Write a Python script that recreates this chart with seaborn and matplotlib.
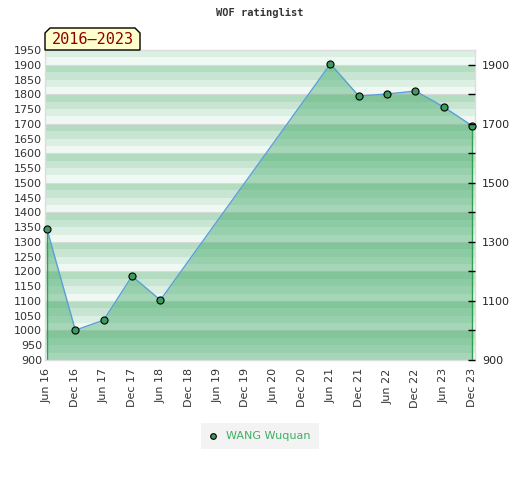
import seaborn as sns
import matplotlib.pyplot as plt
import pandas as pd
from matplotlib.patches import Polygon

periods = ['Jun 16', 'Dec 16', 'Jun 17', 'Dec 17', 'Jun 18', 'Dec 18', 'Jun 19', 'Dec 19',
           'Jun 20', 'Dec 20', 'Jun 21', 'Dec 21', 'Jun 22', 'Dec 22', 'Jun 23', 'Dec 23']
rated = ['Jun 16', 'Dec 16', 'Jun 17', 'Dec 17', 'Jun 18',
         'Jun 21', 'Dec 21', 'Jun 22', 'Dec 22', 'Jun 23', 'Dec 23']
ratings = [1343, 1001, 1035, 1184, 1103, 1903, 1794, 1801, 1811, 1757, 1693]
player = 'WANG Wuquan'
left_ticks = list(range(900, 1951, 50))
right_ticks = list(range(900, 1901, 100))
right_labels = [str(v) if (v - 900) % 200 == 0 else '' for v in right_ticks]

df = pd.DataFrame({'x': [periods.index(p) for p in rated], 'rating': ratings})

sns.set_style('white')
fig = plt.figure(figsize=(5.2, 4.8), dpi=100)
ax = fig.add_axes([45 / 520, 120 / 480, 430 / 520, 310 / 480])

# striped background, period of 100
shades = ['#f0f8f3', '#dcefe3', '#c8e5d3', '#b3dcc0']
for lo in range(900, 1950, 25):
    ax.axhspan(lo, lo + 25, color=shades[(lo // 25) % 4], lw=0, zorder=0)
for v in range(900, 1951, 100):
    ax.axhline(v, color='#dadada', lw=0.8, zorder=0.5)

ax.fill_between(df['x'], df['rating'], 900, color='#3ca765', alpha=0.42, lw=0, zorder=1)
ax.vlines([df['x'].iloc[0], df['x'].iloc[-1]], 900,
          [df['rating'].iloc[0], df['rating'].iloc[-1]], color='#2fa24f', lw=1, zorder=2)
sns.lineplot(data=df, x='x', y='rating', ax=ax, color='#5a9fd8', lw=1, zorder=3)
sns.scatterplot(data=df, x='x', y='rating', ax=ax, color='#3a9d5d', edgecolor='black',
                s=26, linewidth=0.8, zorder=4, label=player, clip_on=False)

ax.set_xlim(-0.07, 15.1)
ax.set_ylim(900, 1950)
ax.set_yticks(left_ticks)
ax.tick_params(axis='y', length=0, labelsize=8, labelcolor='#333333', pad=2)
ax.set_xticks(range(len(periods)))
ax.set_xticklabels(periods, rotation=90, fontsize=8, color='#333333')
ax.tick_params(axis='x', length=0, pad=6)
ax.set_xlabel('')
ax.set_ylabel('')
for s in ax.spines.values():
    s.set_color('#dddddd')
    s.set_linewidth(1)

ax2 = ax.twinx()
ax2.set_ylim(900, 1950)
ax2.set_yticks(right_ticks)
ax2.set_yticklabels(right_labels)
ax2.tick_params(axis='y', direction='in', length=5, width=1, color='black', labelsize=8, pad=5)
for s in ax2.spines.values():
    s.set_visible(False)

leg = ax.legend(loc='center', bbox_to_anchor=(260 / 520, 44 / 480), bbox_transform=fig.transFigure,
                frameon=True, fontsize=8, handlelength=0.6, handletextpad=0.9,
                borderpad=0.45, borderaxespad=0, markerscale=0.8)
leg.get_frame().set_facecolor('#f0f0f0')
leg.get_frame().set_edgecolor('none')
leg.get_frame().set_boxstyle('square')
for t in leg.get_texts():
    t.set_color('#3cb062')

fig.text(0.5, 1 - 13 / 480, 'WOF ratinglist', ha='center', va='center',
         family='DejaVu Sans Mono', fontweight='bold', fontsize=7.5, color='#333333')

# year-range tag with chamfered top corners
x0, x1, y0, y1, c = 45, 140, 50, 28, 5
pts = [(x0, y0), (x0, y1 + c), (x0 + c, y1), (x1 - c, y1), (x1, y1 + c), (x1, y0)]
pts = [(px / 520, 1 - py / 480) for px, py in pts]
fig.patches.append(Polygon(pts, closed=True, facecolor='#ffffcc', edgecolor='black', lw=1,
                           transform=fig.transFigure, zorder=5))
fig.text((x0 + x1) / 2 / 520, 1 - 40 / 480, '2016\u20132023', ha='center', va='center',
         family='DejaVu Sans Mono', fontsize=11, color='#8b0000', zorder=6)

fig.savefig('out.png', dpi=100)
